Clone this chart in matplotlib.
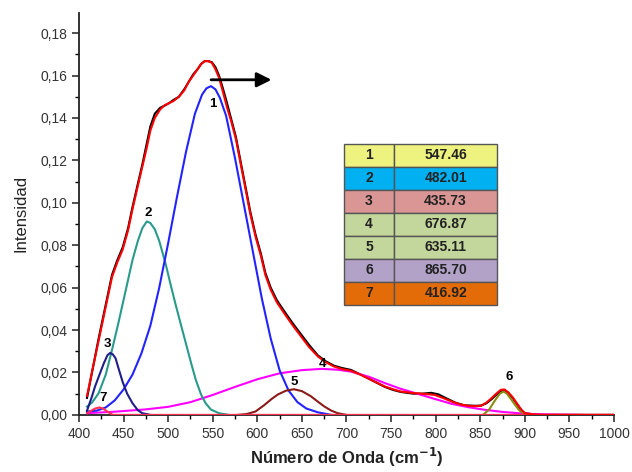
import matplotlib
matplotlib.use("Agg")
import matplotlib.pyplot as plt
from matplotlib.ticker import MultipleLocator, FuncFormatter

plt.rcParams['font.family'] = ['Liberation Sans', 'DejaVu Sans']

# ---- data ----
fit_x = [409, 415, 422, 430, 437, 443, 449, 455, 460, 466, 471, 476, 480, 485, 491, 496, 501, 506, 512, 518,
         523, 528, 533, 537, 541, 545, 549, 553, 557, 561, 566, 571, 576, 581, 587, 592, 598, 604, 609, 615,
         622, 630, 640, 649, 658, 668, 677, 686, 695, 705, 716, 730, 743, 752, 761, 775, 788, 799, 808, 818,
         827, 836, 845, 851, 857, 863, 868, 873, 877, 881, 886, 891, 896, 900, 910, 920, 1000]
fit_y = [0.009, 0.021, 0.035, 0.051, 0.065, 0.072, 0.078, 0.087, 0.097, 0.108, 0.117, 0.126, 0.134, 0.140,
         0.144, 0.146, 0.147, 0.148, 0.150, 0.153, 0.157, 0.160, 0.163, 0.1655, 0.1668, 0.1668, 0.166, 0.163,
         0.159, 0.153, 0.145, 0.138, 0.130, 0.119, 0.106, 0.095, 0.084, 0.075, 0.066, 0.059, 0.053, 0.048,
         0.042, 0.037, 0.032, 0.0275, 0.0248, 0.0228, 0.0216, 0.0208, 0.0189, 0.016, 0.0134, 0.0121, 0.011,
         0.0103, 0.0099, 0.0094, 0.0080, 0.0063, 0.0050, 0.0043, 0.0041, 0.0043, 0.0058, 0.0080, 0.0100,
         0.0118, 0.0120, 0.0108, 0.0085, 0.0055, 0.0025, 0.0008, 0.0002, 0.0, 0.0]

data_x = [409, 415, 422, 430, 437, 443, 449, 455, 460, 466, 471, 476, 480, 485, 491, 496, 501, 506, 512, 518,
          523, 528, 533, 537, 541, 545, 549, 553, 557, 561, 566, 571, 576, 581, 587, 592, 598, 604, 609, 615,
          622, 630, 640, 649, 658, 668, 677, 686, 695, 705, 716, 730, 743, 752, 761, 775, 785, 795, 803, 812,
          822, 832, 845, 851, 857, 863, 868, 873, 877, 881, 886, 891, 896, 900, 910, 920, 1000]
data_y = [0.008, 0.021, 0.036, 0.052, 0.066, 0.073, 0.079, 0.088, 0.098, 0.109, 0.118, 0.128, 0.136, 0.142,
          0.1448, 0.1458, 0.147, 0.1485, 0.150, 0.1535, 0.157, 0.1605, 0.163, 0.1655, 0.1668, 0.1668,
          0.1663, 0.164, 0.160, 0.1545, 0.147, 0.139, 0.131, 0.120, 0.107, 0.096, 0.085, 0.076, 0.067, 0.060,
          0.054, 0.049, 0.043, 0.038, 0.033, 0.028, 0.0252, 0.0232, 0.0221, 0.0212, 0.019, 0.016, 0.0132,
          0.0118, 0.0108, 0.0100, 0.0100, 0.0104, 0.0097, 0.0078, 0.0058, 0.0045, 0.0043, 0.0044, 0.0055,
          0.0075, 0.0095, 0.0113, 0.0117, 0.0105, 0.0082, 0.0052, 0.0022, 0.0008, 0.0002, 0.0, 0.0]

c1_x = [409, 420, 430, 440, 450, 460, 470, 480, 490, 500, 510, 520, 530, 538, 543, 548, 553, 558, 565, 575,
        585, 595, 605, 615, 625, 635, 645, 655, 668, 683]
c1_y = [0.0016, 0.0020, 0.0035, 0.0068, 0.0120, 0.0190, 0.0290, 0.0420, 0.0600, 0.0810, 0.1030, 0.1240,
        0.1420, 0.1510, 0.1540, 0.1550, 0.1535, 0.1495, 0.1410, 0.1210, 0.0990, 0.0770, 0.0550, 0.0360,
        0.0210, 0.0115, 0.0060, 0.0030, 0.0012, 0.0]

c2_x = [409, 415, 422, 430, 437, 444, 452, 460, 466, 471, 476, 480, 485, 490, 497, 503, 508, 514, 520, 526,
        531, 537, 542, 548, 557, 568]
c2_y = [0.0039, 0.006, 0.0102, 0.019, 0.0306, 0.043, 0.058, 0.073, 0.082, 0.088, 0.0912, 0.0905, 0.0875,
        0.082, 0.0715, 0.061, 0.0526, 0.043, 0.0335, 0.024, 0.0165, 0.0095, 0.0055, 0.0025, 0.0008, 0.0]

c3_x = [409, 414, 418, 423, 428, 432, 435, 438, 441, 445, 449, 454, 460, 466, 471, 480]
c3_y = [0.002, 0.008, 0.0134, 0.019, 0.0245, 0.0282, 0.0292, 0.0285, 0.0267, 0.021, 0.0155, 0.010, 0.0055,
        0.0022, 0.0008, 0.0]

c4_x = [409, 440, 475, 500, 525, 550, 575, 600, 625, 650, 672, 690, 705, 725, 743, 760, 780, 800, 818, 837,
        855, 875, 893, 910, 930, 965]
c4_y = [0.0008, 0.0015, 0.0026, 0.0038, 0.006, 0.0094, 0.0132, 0.0168, 0.0196, 0.0211, 0.0217, 0.0213,
        0.0204, 0.0180, 0.0150, 0.0124, 0.0099, 0.0074, 0.0052, 0.0036, 0.0024, 0.0014, 0.0008, 0.0004,
        0.0002, 0.0]

c5_x = [578, 588, 598, 608, 616, 623, 632, 641, 650, 660, 668, 675, 683, 690, 700]
c5_y = [0.0, 0.0004, 0.0016, 0.0047, 0.0075, 0.0096, 0.0114, 0.0121, 0.0112, 0.0088, 0.0062, 0.0040,
        0.0020, 0.0008, 0.0]

c6_x = [853, 860, 866, 872, 876, 880, 886, 893, 900]
c6_y = [0.0, 0.0025, 0.0065, 0.0100, 0.0110, 0.0100, 0.0065, 0.0025, 0.0]

c7_x = [409, 413, 418, 423, 427, 432, 438, 1000]
c7_y = [0.0008, 0.0018, 0.0030, 0.0035, 0.0030, 0.0015, 0.0, 0.0]

peak_labels = ['1', '2', '3', '4', '5', '6', '7']
peak_label_x = [550, 478, 432, 673, 641, 882, 427]
peak_label_y = [0.1437, 0.0925, 0.0306, 0.0212, 0.0127, 0.0151, 0.0052]

table_ids = ['1', '2', '3', '4', '5', '6', '7']
table_vals = ['547.46', '482.01', '435.73', '676.87', '635.11', '865.70', '416.92']
table_colors = ['#EEF27E', '#00B0F0', '#D99694', '#C3D69B', '#C3D69B', '#B3A2C7', '#E36C09']

x_ticks = list(range(400, 1001, 50))
y_ticks = [0.00, 0.02, 0.04, 0.06, 0.08, 0.10, 0.12, 0.14, 0.16, 0.18]

# ---- figure ----
fig = plt.figure(figsize=(6.32, 4.72), dpi=100)
ax = fig.add_axes([0.125, 0.121, 0.8465, 0.8515])

lw = 1.5
ax.plot(data_x, data_y, color='black', lw=lw, zorder=2)
ax.plot(c4_x, c4_y, color='#FF00FF', lw=lw, zorder=3)
ax.plot(c2_x, c2_y, color='#2A9A8C', lw=lw, zorder=3)
ax.plot(c1_x, c1_y, color='#2323FF', lw=lw, zorder=3)
ax.plot(c3_x, c3_y, color='#1F1F8A', lw=lw, zorder=3)
ax.plot(c5_x, c5_y, color='#8B1A1A', lw=lw, zorder=3)
ax.plot(c6_x, c6_y, color='#8C8C10', lw=lw, zorder=3)
ax.plot(c7_x, c7_y, color='#FF3050', lw=lw, zorder=3)
ax.plot(fit_x, fit_y, color='#FF0000', lw=lw, zorder=4)

for t, x, y in zip(peak_labels, peak_label_x, peak_label_y):
    ax.text(x, y, t, fontsize=9.5, fontweight='bold', ha='center', va='bottom', zorder=6)

ax.annotate('', xy=(619, 0.158), xytext=(545, 0.158),
            arrowprops=dict(arrowstyle='-|>', lw=2, color='black', mutation_scale=22), zorder=6)

ax.set_xlim(400, 1000)
ax.set_ylim(0, 0.1895)
ax.set_xticks(x_ticks)
ax.set_yticks(y_ticks)
ax.xaxis.set_minor_locator(MultipleLocator(25))
ax.yaxis.set_minor_locator(MultipleLocator(0.01))
ax.yaxis.set_major_formatter(FuncFormatter(lambda v, p: f"{v:.2f}".replace('.', ',')))
ax.tick_params(which='major', direction='out', length=5, width=1.2, labelsize=10, colors='#333333')
ax.tick_params(which='minor', direction='out', length=3, width=1.0)
for s in ['top', 'right']:
    ax.spines[s].set_visible(False)
for s in ['left', 'bottom']:
    ax.spines[s].set_linewidth(1.3)
    ax.spines[s].set_color('#222222')

ax.set_ylabel('Intensidad', fontsize=12, color='#222222', labelpad=8)
ax.set_xlabel('Número de Onda (cm$^{\\mathbf{-1}}$)', fontsize=12, fontweight='bold', color='#222222', labelpad=4)

cell_text = [[a, b] for a, b in zip(table_ids, table_vals)]
cell_colors = [[c, c] for c in table_colors]
tbl = ax.table(cellText=cell_text, cellColours=cell_colors, cellLoc='center',
               colWidths=[0.33, 0.67], bbox=[0.495, 0.274, 0.286, 0.40], zorder=7)
tbl.auto_set_font_size(False)
for (r, c), cell in tbl.get_celld().items():
    cell.set_edgecolor('#555555')
    cell.set_linewidth(1.0)
    cell.get_text().set_fontsize(10)
    cell.get_text().set_fontweight('bold')
    cell.get_text().set_color('#222222')

fig.savefig('out.png', dpi=100)
